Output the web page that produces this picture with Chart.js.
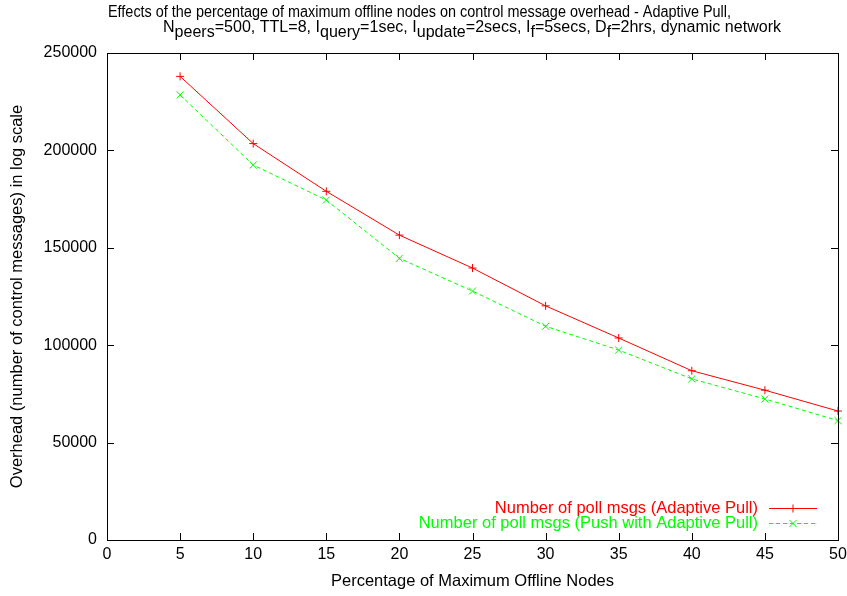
<!DOCTYPE html>
<html>
<head>
<meta charset="utf-8">
<script src="https://cdn.jsdelivr.net/npm/chart.js@4/dist/chart.umd.min.js"></script>
<style>
html,body{margin:0;padding:0;background:#fff;}
#wrap{width:847px;height:596px;position:relative;}
</style>
</head>
<body>
<div id="wrap"><canvas id="c" width="847" height="596"></canvas></div>
<script>
const offlinePct = [5, 10, 15, 20, 25, 30, 35, 40, 45, 50];
const adaptivePull = [238000, 203500, 179000, 156500, 139600, 120200, 103700, 86900, 76900, 66200];
const pushAdaptivePull = [228500, 192500, 174500, 144600, 127800, 109700, 97500, 82700, 72400, 61300];
const seriesLabels = ['Number of poll msgs (Adaptive Pull)', 'Number of poll msgs (Push with Adaptive Pull)'];
const titleLine1 = 'Effects of the percentage of maximum offline nodes on control message overhead - Adaptive Pull,';
const titleLine2 = [['N',0],['peers',1],['=500, TTL=8, I',0],['query',1],['=1sec, I',0],['update',1],['=2secs, I',0],['f',1],['=5secs, D',0],['f',1],['=2hrs, dynamic network',0]];
const xTitle = 'Percentage of Maximum Offline Nodes';
const yTitle = 'Overhead (number of control messages) in log scale';

const FONT = '"Liberation Sans", Arial, Helvetica, sans-serif';

const framePlugin = {
  id: 'frame',
  afterDraw(chart) {
    const ctx = chart.ctx;
    const {left, right, top, bottom} = chart.chartArea;
    ctx.save();
    ctx.strokeStyle = '#000';
    ctx.lineWidth = 1;
    const L = 7;
    ctx.beginPath();
    chart.scales.x.ticks.forEach(t => {
      const px = Math.round(chart.scales.x.getPixelForValue(t.value)) + 0.5;
      ctx.moveTo(px, bottom); ctx.lineTo(px, bottom - L);
      ctx.moveTo(px, top); ctx.lineTo(px, top + L);
    });
    chart.scales.y.ticks.forEach(t => {
      const py = Math.round(chart.scales.y.getPixelForValue(t.value)) + 0.5;
      ctx.moveTo(left, py); ctx.lineTo(left + L, py);
      ctx.moveTo(right, py); ctx.lineTo(right - L, py);
    });
    ctx.stroke();
    ctx.strokeRect(Math.round(left) + 0.5, Math.round(top) + 0.5, Math.round(right - left), Math.round(bottom - top));
    ctx.restore();
  }
};

function drawMarker(ctx, style, x, y, r) {
  ctx.beginPath();
  if (style === 'cross') {
    ctx.moveTo(x - r, y); ctx.lineTo(x + r, y);
    ctx.moveTo(x, y - r); ctx.lineTo(x, y + r);
  } else {
    const d = r * Math.SQRT1_2;
    ctx.moveTo(x - d, y - d); ctx.lineTo(x + d, y + d);
    ctx.moveTo(x - d, y + d); ctx.lineTo(x + d, y - d);
  }
  ctx.setLineDash([]);
  ctx.stroke();
}

const legendPlugin = {
  id: 'gpLegend',
  afterDraw(chart) {
    const ctx = chart.ctx;
    const {right, bottom} = chart.chartArea;
    ctx.save();
    ctx.font = '16.5px ' + FONT;
    ctx.textAlign = 'right';
    ctx.textBaseline = 'middle';
    chart.data.datasets.forEach((ds, i) => {
      const y = bottom - 32 + i * 15;
      ctx.fillStyle = ds.borderColor;
      ctx.fillText(ds.label, right - 80, y);
      ctx.strokeStyle = ds.borderColor;
      ctx.lineWidth = 1;
      ctx.setLineDash(ds.borderDash || []);
      ctx.beginPath();
      ctx.moveTo(right - 69, y + 0.5); ctx.lineTo(right - 21, y + 0.5);
      ctx.stroke();
      drawMarker(ctx, ds.pointStyle, right - 45, y + 0.5, ds.pointRadius);
    });
    ctx.restore();
  }
};

const titlePlugin = {
  id: 'gpTitle',
  afterDraw(chart) {
    const ctx = chart.ctx;
    ctx.save();
    ctx.fillStyle = '#000';
    ctx.textBaseline = 'alphabetic';
    ctx.textAlign = 'left';
    const F = '16px ' + FONT;
    ctx.font = F;
    // line 1: spans x 108..731
    const w1 = ctx.measureText(titleLine1).width;
    ctx.save();
    ctx.translate(108, 17);
    ctx.scale(623 / w1, 1);
    ctx.fillText(titleLine1, 0, 0);
    ctx.restore();
    // line 2: spans x 163..781, subscripts same size shifted down
    let total = 0;
    titleLine2.forEach(([t]) => { total += ctx.measureText(t).width; });
    ctx.save();
    ctx.translate(163, 32);
    ctx.scale(618 / total, 1);
    let x = 0;
    titleLine2.forEach(([t, s]) => {
      ctx.fillText(t, x, s ? 5 : 0);
      x += ctx.measureText(t).width;
    });
    ctx.restore();
    ctx.restore();
  }
};

new Chart(document.getElementById('c'), {
  type: 'line',
  data: {
    datasets: [
      {
        label: seriesLabels[0],
        data: offlinePct.map((x, i) => ({x, y: adaptivePull[i]})),
        borderColor: '#ff0000',
        backgroundColor: '#ff0000',
        borderWidth: 1,
        pointStyle: 'cross',
        pointRadius: 4,
        pointBorderWidth: 1,
        tension: 0,
        clip: false
      },
      {
        label: seriesLabels[1],
        data: offlinePct.map((x, i) => ({x, y: pushAdaptivePull[i]})),
        borderColor: '#00ff00',
        backgroundColor: '#00ff00',
        borderWidth: 1,
        borderDash: [4, 3],
        pointStyle: 'crossRot',
        pointRadius: 5,
        pointBorderWidth: 1,
        tension: 0,
        clip: false
      }
    ]
  },
  options: {
    responsive: false,
    animation: false,
    devicePixelRatio: 1,
    layout: { padding: { left: 0, right: 9, top: 53, bottom: 0 } },
    plugins: { legend: { display: false }, title: { display: false }, tooltip: { enabled: false } },
    scales: {
      x: {
        type: 'linear', min: 0, max: 50,
        grid: { display: false, drawTicks: false }, border: { display: false },
        ticks: { stepSize: 5, color: '#000', font: { family: FONT, size: 16 }, padding: 5, maxRotation: 0 },
        title: { display: true, text: xTitle, color: '#000', font: { family: FONT, size: 16.5 }, padding: { top: 0, bottom: 5 } },
        afterFit(s) { s.height = 56; s.paddingLeft = 0; s.paddingRight = 0; }
      },
      y: {
        type: 'linear', min: 0, max: 250000,
        grid: { display: false, drawTicks: false }, border: { display: false },
        ticks: { stepSize: 50000, color: '#000', font: { family: FONT, size: 16 }, padding: 10, callback: v => String(v) },
        title: { display: true, text: yTitle, color: '#000', font: { family: FONT, size: 16.5 }, padding: { top: 8, bottom: 0 } },
        afterFit(s) { s.width = 107; s.paddingTop = 0; s.paddingBottom = 0; }
      }
    }
  },
  plugins: [framePlugin, legendPlugin, titlePlugin]
});
</script>
</body>
</html>
